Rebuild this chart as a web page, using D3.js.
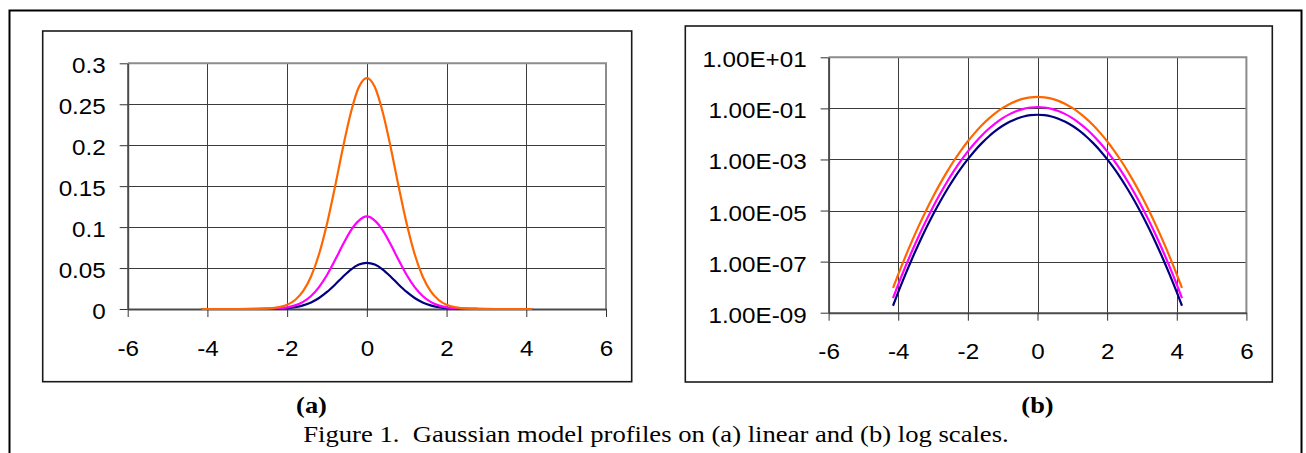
<!DOCTYPE html>
<html>
<head>
<meta charset="utf-8">
<script src="https://cdn.jsdelivr.net/npm/d3@7"></script>
<style>
  html, body { margin: 0; padding: 0; background: #fff; }
  svg { display: block; }
</style>
</head>
<body>
<svg id="fig" width="1306" height="453"></svg>
<script>
// Sample positions along the profile
const xs = [-4.15, -4.0, -3.8, -3.6, -3.4, -3.2, -3.0, -2.8, -2.6, -2.4, -2.2, -2.0, -1.8, -1.6, -1.4, -1.2, -1.0, -0.8, -0.6, -0.4, -0.2,
            0,
            0.2, 0.4, 0.6, 0.8, 1.0, 1.2, 1.4, 1.6, 1.8, 2.0, 2.2, 2.4, 2.6, 2.8, 3.0, 3.2, 3.4, 3.6, 3.8, 4.0, 4.15];

// Profile amplitudes for the three models
const orangeProfile = [9.34e-9, 3.17e-8, 1.51e-7, 6.64e-7, 2.69e-6, 1.01e-5, 3.48e-5, 1.11e-4, 3.27e-4, 8.89e-4, 2.23e-3, 5.17e-3, 1.10e-2, 2.18e-2, 3.97e-2, 6.68e-2, 0.104, 0.149, 0.197, 0.240, 0.271,
                       0.282,
                       0.271, 0.240, 0.197, 0.149, 0.104, 6.68e-2, 3.97e-2, 2.18e-2, 1.10e-2, 5.17e-3, 2.23e-3, 8.89e-4, 3.27e-4, 1.11e-4, 3.48e-5, 1.01e-5, 2.69e-6, 6.64e-7, 1.51e-7, 3.17e-8, 9.34e-9];
const magentaProfile = [3.74e-9, 1.27e-8, 6.05e-8, 2.65e-7, 1.08e-6, 4.03e-6, 1.39e-5, 4.44e-5, 1.31e-4, 3.56e-4, 8.92e-4, 2.07e-3, 4.42e-3, 8.72e-3, 1.59e-2, 2.67e-2, 0.0415, 0.0595, 0.0787, 0.0961, 0.108,
                        0.113,
                        0.108, 0.0961, 0.0787, 0.0595, 0.0415, 2.67e-2, 1.59e-2, 8.72e-3, 4.42e-3, 2.07e-3, 8.92e-4, 3.56e-4, 1.31e-4, 4.44e-5, 1.39e-5, 4.03e-6, 1.08e-6, 2.65e-7, 6.05e-8, 1.27e-8, 3.74e-9];
const navyProfile = [1.87e-9, 6.35e-9, 3.02e-8, 1.33e-7, 5.38e-7, 2.01e-6, 6.96e-6, 2.22e-5, 6.54e-5, 1.78e-4, 4.46e-4, 1.03e-3, 2.21e-3, 4.36e-3, 7.95e-3, 1.34e-2, 0.0208, 0.0297, 0.0394, 0.0481, 0.0542,
                     0.0564,
                     0.0542, 0.0481, 0.0394, 0.0297, 0.0208, 1.34e-2, 7.95e-3, 4.36e-3, 2.21e-3, 1.03e-3, 4.46e-4, 1.78e-4, 6.54e-5, 2.22e-5, 6.96e-6, 2.01e-6, 5.38e-7, 1.33e-7, 3.02e-8, 6.35e-9, 1.87e-9];

// Axis ticks and labels
const xTicks = [-6, -4, -2, 0, 2, 4, 6];
const linTicks = [0, 0.05, 0.1, 0.15, 0.2, 0.25, 0.3];
const linTickLabels = ["0", "0.05", "0.1", "0.15", "0.2", "0.25", "0.3"];
const logTicks = [1e1, 1e-1, 1e-3, 1e-5, 1e-7, 1e-9];
const logTickLabels = ["1.00E+01", "1.00E-01", "1.00E-03", "1.00E-05", "1.00E-07", "1.00E-09"];

const panelLabels = ["(a)", "(b)"];
const captionText = "Figure 1.  Gaussian model profiles on (a) linear and (b) log scales.";

const seriesList = [
  { name: "navy", values: navyProfile, color: "#000080" },
  { name: "magenta", values: magentaProfile, color: "#FF00FF" },
  { name: "orange", values: orangeProfile, color: "#FF6600" }
];

const svg = d3.select("#fig");
const stretch = 1.1;
const axisFont = "'Liberation Sans', Arial, sans-serif";
const serifFont = "'Liberation Serif', 'Times New Roman', serif";

// Outer figure frame
svg.append("rect")
  .attr("x", 9.5).attr("y", 10.5).attr("width", 1292).attr("height", 460)
  .attr("fill", "none").attr("stroke", "#000").attr("stroke-width", 2);

function stretchText(sel, k) {
  sel.each(function () {
    const t = d3.select(this);
    const x = +t.attr("x") || 0;
    t.attr("x", x / k).attr("transform", `scale(${k},1)`);
  });
}

function drawPanel(opt) {
  // Chart frame
  svg.append("rect")
    .attr("x", opt.frame[0]).attr("y", opt.frame[1])
    .attr("width", opt.frame[2] - opt.frame[0]).attr("height", opt.frame[3] - opt.frame[1])
    .attr("fill", "#fff").attr("stroke", "#1a1a1a").attr("stroke-width", 1.6);

  const [L, T, R, B] = opt.plot;
  const x = d3.scaleLinear().domain([-6, 6]).range([L, R]);
  const y = opt.y.range([B, T]);

  const g = svg.append("g");

  // Gridlines
  g.append("g").selectAll("line").data(xTicks.slice(1, -1)).join("line")
    .attr("x1", d => Math.round(x(d)) + 0.5).attr("x2", d => Math.round(x(d)) + 0.5)
    .attr("y1", T).attr("y2", B)
    .attr("stroke", "#3c3c3c").attr("stroke-width", 1);
  g.append("g").selectAll("line").data(opt.yTicks.slice(1, -1)).join("line")
    .attr("x1", L).attr("x2", R)
    .attr("y1", d => Math.round(y(d)) + 0.5).attr("y2", d => Math.round(y(d)) + 0.5)
    .attr("stroke", "#3c3c3c").attr("stroke-width", 1);

  // Plot area border (top and right)
  g.append("path")
    .attr("d", `M${L},${T}H${R}V${B}`)
    .attr("fill", "none").attr("stroke", "#8c8c8c").attr("stroke-width", 2);

  // Axes
  const yAxis = d3.axisLeft(y).tickValues(opt.yTicks)
    .tickFormat((d, i) => opt.yLabels[i]).tickSize(8).tickPadding(opt.yPad).tickSizeOuter(0);
  const ya = g.append("g").attr("transform", `translate(${L},0)`).call(yAxis);
  ya.select(".domain").attr("stroke", "#4a4a4a").attr("stroke-width", 2);
  ya.selectAll(".tick line").attr("stroke", "#333");
  ya.selectAll("text").attr("font-family", axisFont).attr("font-size", 22).attr("fill", "#000").attr("dy", "0.43em");
  stretchText(ya.selectAll("text"), stretch);

  const xAxis = d3.axisBottom(x).tickValues(xTicks).tickFormat(d3.format("d")).tickSize(8).tickPadding(23).tickSizeOuter(0);
  const xa = g.append("g").attr("transform", `translate(0,${B})`).call(xAxis);
  xa.select(".domain").attr("stroke", "#4a4a4a").attr("stroke-width", 2);
  xa.selectAll(".tick line").attr("stroke", "#333");
  xa.selectAll("text").attr("font-family", axisFont).attr("font-size", 22).attr("fill", "#000")
    .text(d => d < 0 ? "-" + Math.abs(d) : String(d));
  stretchText(xa.selectAll("text"), stretch);

  // Profiles
  const line = d3.line()
    .x((d, i) => x(xs[i]))
    .y(d => y(d))
    .curve(d3.curveMonotoneX);
  g.append("g").selectAll("path").data(seriesList).join("path")
    .attr("d", s => line(s.values))
    .attr("fill", "none")
    .attr("stroke", s => s.color)
    .attr("stroke-width", 2.2)
    .attr("stroke-linejoin", "round");

  // Panel label below the frame
  svg.append("text")
    .attr("x", opt.labelX / 1.1).attr("y", 413)
    .attr("transform", "scale(1.1,1)")
    .attr("text-anchor", "middle")
    .attr("font-family", serifFont).attr("font-weight", "bold").attr("font-size", 24)
    .text(opt.label);
}

drawPanel({
  frame: [42.7, 31, 631.7, 381.7],
  plot: [127.7, 63.3, 606, 309],
  y: d3.scaleLinear().domain([0, 0.3]),
  yTicks: linTicks,
  yLabels: linTickLabels,
  yPad: 14,
  label: panelLabels[0],
  labelX: 311.5
});

drawPanel({
  frame: [685.3, 26, 1272.3, 382],
  plot: [828.6, 57.3, 1246.4, 312.7],
  y: d3.scaleLog().domain([1e-9, 1e1]),
  yTicks: logTicks,
  yLabels: logTickLabels,
  yPad: 14,
  label: panelLabels[1],
  labelX: 1037.5
});

// Caption
const capScale = 1.11;
svg.append("text")
  .attr("x", 656 / capScale).attr("y", 442)
  .attr("transform", `scale(${capScale},1)`)
  .attr("text-anchor", "middle")
  .attr("font-family", serifFont).attr("font-size", 24)
  .attr("fill", "#000")
  .attr("xml:space", "preserve")
  .style("white-space", "pre")
  .text(captionText);
</script>
</body>
</html>
